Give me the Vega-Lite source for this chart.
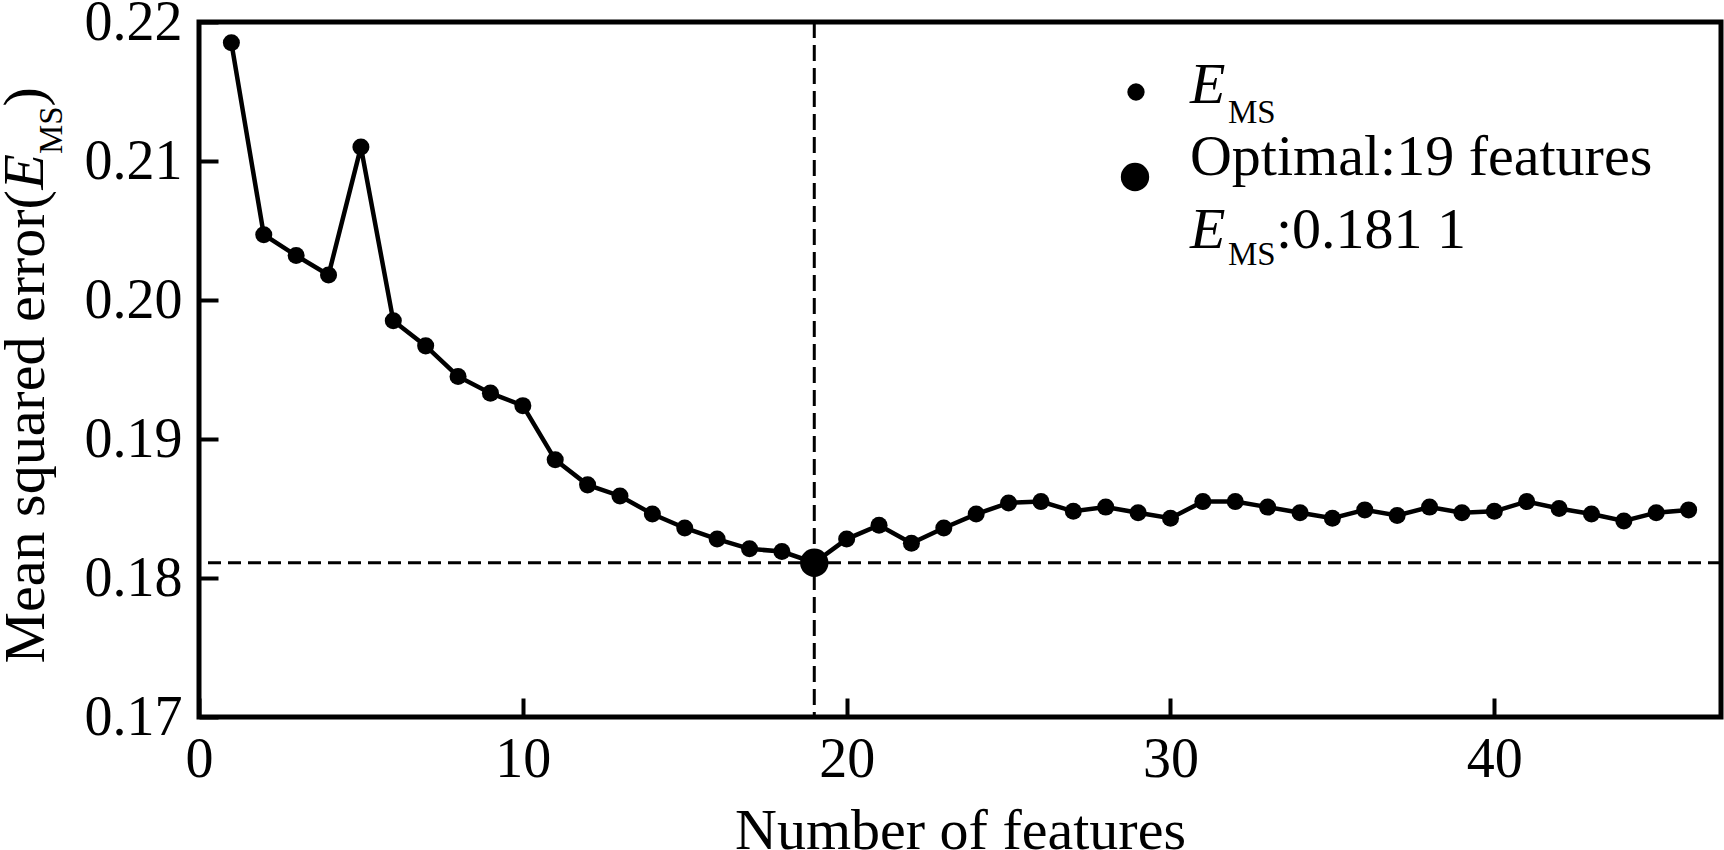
{
  "$schema": "https://vega.github.io/schema/vega-lite/v6.json",
  "width": 1522,
  "height": 695,
  "autosize": {"type": "none"},
  "padding": {"left": 199, "top": 22, "right": 3, "bottom": 133},
  "background": "white",
  "config": {
    "font": "Liberation Serif",
    "view": {"stroke": "black", "strokeWidth": 5},
    "axis": {
      "domain": false,
      "grid": false,
      "tickColor": "black",
      "tickWidth": 4,
      "tickSize": -19,
      "labelColor": "black",
      "labelFont": "Liberation Serif",
      "labelFontSize": 56,
      "labelFlush": false,
      "labelOverlap": false,
      "labelBound": false,
      "titleFont": "Liberation Serif",
      "titleFontSize": 58,
      "titleFontWeight": "normal",
      "titleColor": "black"
    }
  },
  "data": {
    "values": [
      {"n": 1, "mse": 0.2185}, {"n": 2, "mse": 0.2047}, {"n": 3, "mse": 0.2032},
      {"n": 4, "mse": 0.2018}, {"n": 5, "mse": 0.2110}, {"n": 6, "mse": 0.1985},
      {"n": 7, "mse": 0.1967}, {"n": 8, "mse": 0.1945}, {"n": 9, "mse": 0.1933},
      {"n": 10, "mse": 0.1924}, {"n": 11, "mse": 0.1885}, {"n": 12, "mse": 0.1867},
      {"n": 13, "mse": 0.1859}, {"n": 14, "mse": 0.1846}, {"n": 15, "mse": 0.1836},
      {"n": 16, "mse": 0.1828}, {"n": 17, "mse": 0.1821}, {"n": 18, "mse": 0.1819},
      {"n": 19, "mse": 0.1811}, {"n": 20, "mse": 0.1828}, {"n": 21, "mse": 0.1838},
      {"n": 22, "mse": 0.1825}, {"n": 23, "mse": 0.1836}, {"n": 24, "mse": 0.1846},
      {"n": 25, "mse": 0.1854}, {"n": 26, "mse": 0.1855}, {"n": 27, "mse": 0.1848},
      {"n": 28, "mse": 0.1851}, {"n": 29, "mse": 0.1847}, {"n": 30, "mse": 0.1843},
      {"n": 31, "mse": 0.1855}, {"n": 32, "mse": 0.1855}, {"n": 33, "mse": 0.1851},
      {"n": 34, "mse": 0.1847}, {"n": 35, "mse": 0.1843}, {"n": 36, "mse": 0.1849},
      {"n": 37, "mse": 0.1845}, {"n": 38, "mse": 0.1851}, {"n": 39, "mse": 0.1847},
      {"n": 40, "mse": 0.1848}, {"n": 41, "mse": 0.1855}, {"n": 42, "mse": 0.1850},
      {"n": 43, "mse": 0.1846}, {"n": 44, "mse": 0.1841}, {"n": 45, "mse": 0.1847},
      {"n": 46, "mse": 0.1849}
    ]
  },
  "layer": [
    {
      "mark": {"type": "line", "stroke": "black", "strokeWidth": 4.5},
      "encoding": {
        "x": {
          "field": "n", "type": "quantitative",
          "scale": {"domain": [0, 47], "nice": false, "zero": false},
          "axis": {
            "values": [0, 10, 20, 30, 40],
            "title": "Number of features",
            "titleBaseline": "alphabetic",
            "titleY": 131,
            "labelPadding": 34
          }
        },
        "y": {
          "field": "mse", "type": "quantitative",
          "scale": {"domain": [0.17, 0.22], "nice": false, "zero": false},
          "axis": {
            "values": [0.17, 0.18, 0.19, 0.2, 0.21, 0.22],
            "format": ".2f",
            "title": "Mean squared error(",
            "titleAngle": 270,
            "titleAlign": "left",
            "titleBaseline": "alphabetic",
            "titleX": -156,
            "titleY": 641,
            "labelPadding": 36
          }
        }
      }
    },
    {
      "data": {"values": [{}]},
      "mark": {"type": "rule", "stroke": "black", "strokeWidth": 3, "strokeDash": [16, 7]},
      "encoding": {"x": {"datum": 19, "type": "quantitative"}}
    },
    {
      "data": {"values": [{}]},
      "mark": {"type": "rule", "stroke": "black", "strokeWidth": 3, "strokeDash": [13, 7]},
      "encoding": {"y": {"datum": 0.1811, "type": "quantitative"}}
    },
    {
      "mark": {"type": "point", "shape": "circle", "filled": true, "color": "black", "opacity": 1, "size": 290},
      "encoding": {
        "x": {"field": "n", "type": "quantitative"},
        "y": {"field": "mse", "type": "quantitative"}
      }
    },
    {
      "transform": [{"filter": "datum.n === 19"}],
      "mark": {"type": "point", "shape": "circle", "filled": true, "color": "black", "opacity": 1, "size": 804},
      "encoding": {
        "x": {"field": "n", "type": "quantitative"},
        "y": {"field": "mse", "type": "quantitative"}
      }
    },
    {
      "data": {"values": [{}]},
      "mark": {"type": "text", "text": "E", "font": "Liberation Serif", "fontStyle": "italic", "fontSize": 58, "angle": 270, "align": "left", "baseline": "alphabetic", "color": "black"},
      "encoding": {
        "x": {"datum": -4.817, "type": "quantitative"},
        "y": {"datum": 0.20795, "type": "quantitative"}
      }
    },
    {
      "data": {"values": [{}]},
      "mark": {"type": "text", "text": "MS", "font": "Liberation Serif", "fontSize": 33, "angle": 270, "align": "left", "baseline": "alphabetic", "color": "black"},
      "encoding": {
        "x": {"datum": -4.231, "type": "quantitative"},
        "y": {"datum": 0.210504, "type": "quantitative"}
      }
    },
    {
      "data": {"values": [{}]},
      "mark": {"type": "text", "text": ")", "font": "Liberation Serif", "fontSize": 58, "angle": 270, "align": "left", "baseline": "alphabetic", "color": "black"},
      "encoding": {
        "x": {"datum": -4.817, "type": "quantitative"},
        "y": {"datum": 0.213928, "type": "quantitative"}
      }
    },
    {
      "data": {"values": [{}]},
      "mark": {"type": "point", "shape": "circle", "filled": true, "color": "black", "opacity": 1, "size": 300},
      "encoding": {
        "x": {"datum": 28.935, "type": "quantitative"},
        "y": {"datum": 0.214964, "type": "quantitative"}
      }
    },
    {
      "data": {"values": [{}]},
      "mark": {"type": "point", "shape": "circle", "filled": true, "color": "black", "opacity": 1, "size": 804},
      "encoding": {
        "x": {"datum": 28.904, "type": "quantitative"},
        "y": {"datum": 0.208849, "type": "quantitative"}
      }
    },
    {
      "data": {"values": [{}]},
      "mark": {"type": "text", "text": "E", "font": "Liberation Serif", "fontStyle": "italic", "fontSize": 58, "align": "left", "baseline": "alphabetic", "color": "black"},
      "encoding": {
        "x": {"datum": 30.602, "type": "quantitative"},
        "y": {"datum": 0.214173, "type": "quantitative"}
      }
    },
    {
      "data": {"values": [{}]},
      "mark": {"type": "text", "text": "MS", "font": "Liberation Serif", "fontSize": 33, "align": "left", "baseline": "alphabetic", "color": "black"},
      "encoding": {
        "x": {"datum": 31.776, "type": "quantitative"},
        "y": {"datum": 0.212734, "type": "quantitative"}
      }
    },
    {
      "data": {"values": [{}]},
      "mark": {"type": "text", "text": "Optimal:19 features", "font": "Liberation Serif", "fontSize": 58, "align": "left", "baseline": "alphabetic", "color": "black"},
      "encoding": {
        "x": {"datum": 30.602, "type": "quantitative"},
        "y": {"datum": 0.208993, "type": "quantitative"}
      }
    },
    {
      "data": {"values": [{}]},
      "mark": {"type": "text", "text": "E", "font": "Liberation Serif", "fontStyle": "italic", "fontSize": 58, "align": "left", "baseline": "alphabetic", "color": "black"},
      "encoding": {
        "x": {"datum": 30.602, "type": "quantitative"},
        "y": {"datum": 0.203741, "type": "quantitative"}
      }
    },
    {
      "data": {"values": [{}]},
      "mark": {"type": "text", "text": "MS", "font": "Liberation Serif", "fontSize": 33, "align": "left", "baseline": "alphabetic", "color": "black"},
      "encoding": {
        "x": {"datum": 31.776, "type": "quantitative"},
        "y": {"datum": 0.202518, "type": "quantitative"}
      }
    },
    {
      "data": {"values": [{}]},
      "mark": {"type": "text", "text": ":0.181 1", "font": "Liberation Serif", "fontSize": 58, "align": "left", "baseline": "alphabetic", "color": "black"},
      "encoding": {
        "x": {"datum": 33.258, "type": "quantitative"},
        "y": {"datum": 0.203741, "type": "quantitative"}
      }
    }
  ]
}
